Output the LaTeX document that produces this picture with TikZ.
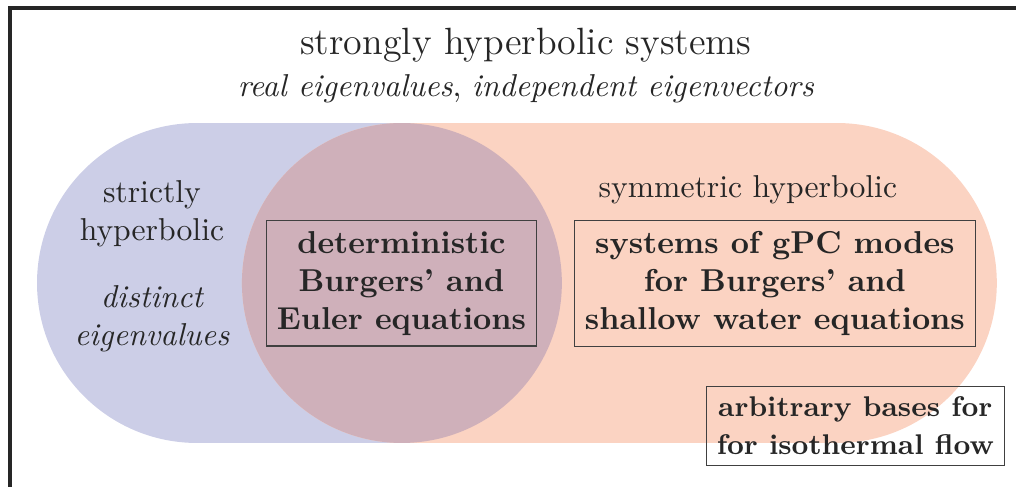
\documentclass[tikz,border=0pt]{standalone}
\usepackage{amsmath, amsfonts}

\definecolor{strictcol}{RGB}{204,206,231}
\definecolor{symmcol}{RGB}{251,211,194}
\definecolor{bothcol}{RGB}{207,176,186}

\tikzset{
    casebox/.style={draw=black!75, thin, align=center, font=\bfseries, text=black!85},
    plain/.style={align=center, text=black!85}
}

\begin{document}
\begin{tikzpicture}
    \useasboundingbox (0,0) rectangle (11.28,5.406);
    % outer frame (cut off at right and bottom)
    \draw[line width=1pt, black!85] (0.111,-0.5) -- (0.111,5.317) -- (11.6,5.317);

    % strictly hyperbolic and symmetric hyperbolic regions
    \fill[strictcol, rounded corners=1.776cm] (0.411,0.488) rectangle (6.238,4.04);
    \fill[symmcol, rounded corners=1.776cm] (2.686,0.488) rectangle (11.067,4.04);
    \fill[bothcol] (4.462,2.264) circle (1.776);

    % headings
    \node[plain, font=\large] (strong) at (5.839,4.90) {strongly hyperbolic systems};
    \node[plain] (strongsub) at (5.839,4.415)
        {\textit{real eigenvalues}, \textit{independent eigenvectors}};
    \node[plain] (strict) at (1.687,3.035) {strictly\\hyperbolic};
    \node[plain, font=\itshape] (distinct) at (1.687,1.872) {distinct\\eigenvalues};
    \node[plain] (symm) at (8.303,3.30) {symmetric hyperbolic};

    % examples
    \node[casebox] (determ) at (4.457,2.259)
        {deterministic\\Burgers' and\\Euler equations};
    \node[casebox] (gpc) at (8.603,2.259)
        {systems of gPC modes\\for Burgers' and\\shallow water equations};
    \node[casebox, font=\bfseries\small] (arbit) at (9.496,0.677)
        {arbitrary bases for\\[1pt]for isothermal flow};
\end{tikzpicture}
\end{document}
